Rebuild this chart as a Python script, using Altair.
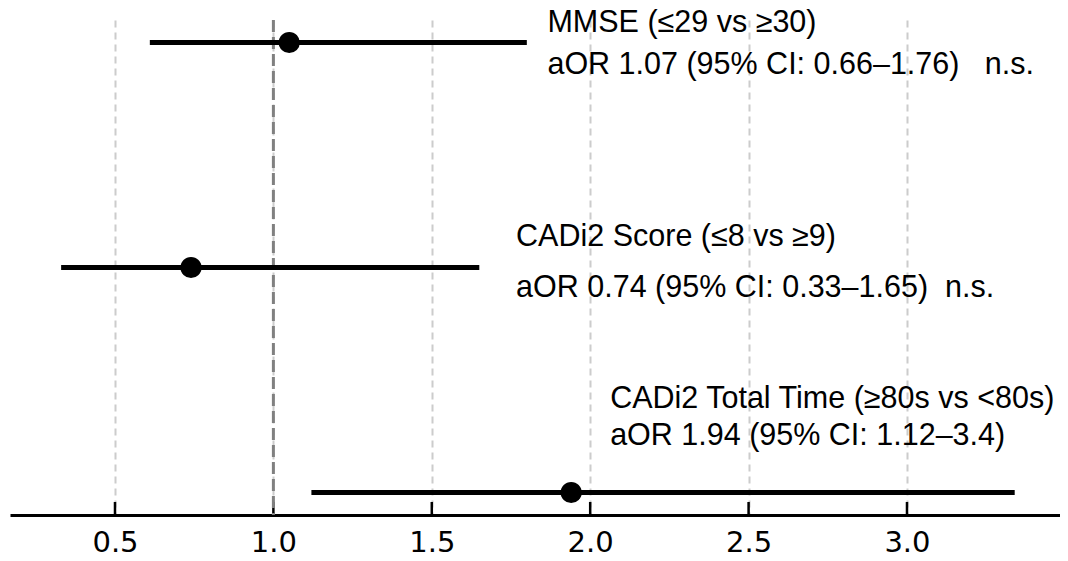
import altair as alt
import pandas as pd

labels = ["MMSE (≤29 vs ≥30)", "CADi2 Score (≤8 vs ≥9)", "CADi2 Total Time (≥80s vs <80s)"]
stats = ["aOR 1.07 (95% CI: 0.66–1.76)\u00a0\u00a0\u00a0n.s.",
         "aOR 0.74 (95% CI: 0.33–1.65)\u00a0\u00a0n.s.",
         "aOR 1.94 (95% CI: 1.12–3.4)"]
ypos = [2, 1, 0]
aor = [1.05, 0.74, 1.94]
lo = [0.61, 0.33, 1.12]
hi = [1.80, 1.65, 3.34]
text_x = [1.865, 1.766, 2.063]
label_y = [2.045, 1.097, 0.374]
stat_y = [1.86, 0.870, 0.211]
ticks = [0.5, 1.0, 1.5, 2.0, 2.5, 3.0]

H = 495

df = pd.DataFrame({"label": labels, "stat": stats, "y": ypos, "aor": aor,
                   "lo": lo, "hi": hi, "tx": text_x, "ly": label_y, "sy": stat_y})

xscale = alt.Scale(domain=[0.1686, 3.483], nice=False, zero=False)
yscale = alt.Scale(domain=[-0.1, 2.1], nice=False, zero=False)

xaxis = alt.Axis(values=ticks, format=".1f", title=None, grid=True,
                 gridColor="#cccccc", gridDash=[7, 5], gridWidth=2,
                 labelFont="DejaVu Sans", labelFontSize=29, labelColor="black",
                 labelPadding=13, domainColor="black", domainWidth=3,
                 ticks=False)

base = alt.Chart(df)

errs = base.mark_rule(color="black", strokeWidth=5).encode(
    x=alt.X("lo:Q", scale=xscale, axis=xaxis),
    x2="hi:Q",
    y=alt.Y("y:Q", scale=yscale, axis=None),
)

ref = alt.Chart(pd.DataFrame({"r": [1.0]})).mark_rule(
    color="#808080", strokeWidth=3, strokeDash=[12, 5]).encode(
    x=alt.X("r:Q", scale=xscale))

tickmarks = alt.Chart(pd.DataFrame({"t": ticks})).mark_rule(
    color="black", strokeWidth=2.5).encode(
    x=alt.X("t:Q", scale=xscale),
    y=alt.value(H - 13), y2=alt.value(H))

pts = base.mark_circle(color="black", opacity=1, size=450).encode(
    x=alt.X("aor:Q", scale=xscale),
    y=alt.Y("y:Q", scale=yscale),
)

txt1 = base.mark_text(align="left", baseline="alphabetic", font="Liberation Sans",
                      fontSize=30.5, color="black").encode(
    x=alt.X("tx:Q", scale=xscale), y=alt.Y("ly:Q", scale=yscale), text="label:N")
txt2 = base.mark_text(align="left", baseline="alphabetic", font="Liberation Sans",
                      fontSize=30.5, color="black").encode(
    x=alt.X("tx:Q", scale=xscale), y=alt.Y("sy:Q", scale=yscale), text="stat:N")

chart = alt.layer(tickmarks, ref, errs, pts, txt1, txt2).properties(
    width=1050, height=H,
    background="white",
    autosize=alt.AutoSizeParams(type="none"),
    padding={"left": 2, "top": 12, "right": 0, "bottom": 46},
).configure_view(stroke=None)

chart.save("out.html", embed_options={"renderer": "svg", "actions": False})
